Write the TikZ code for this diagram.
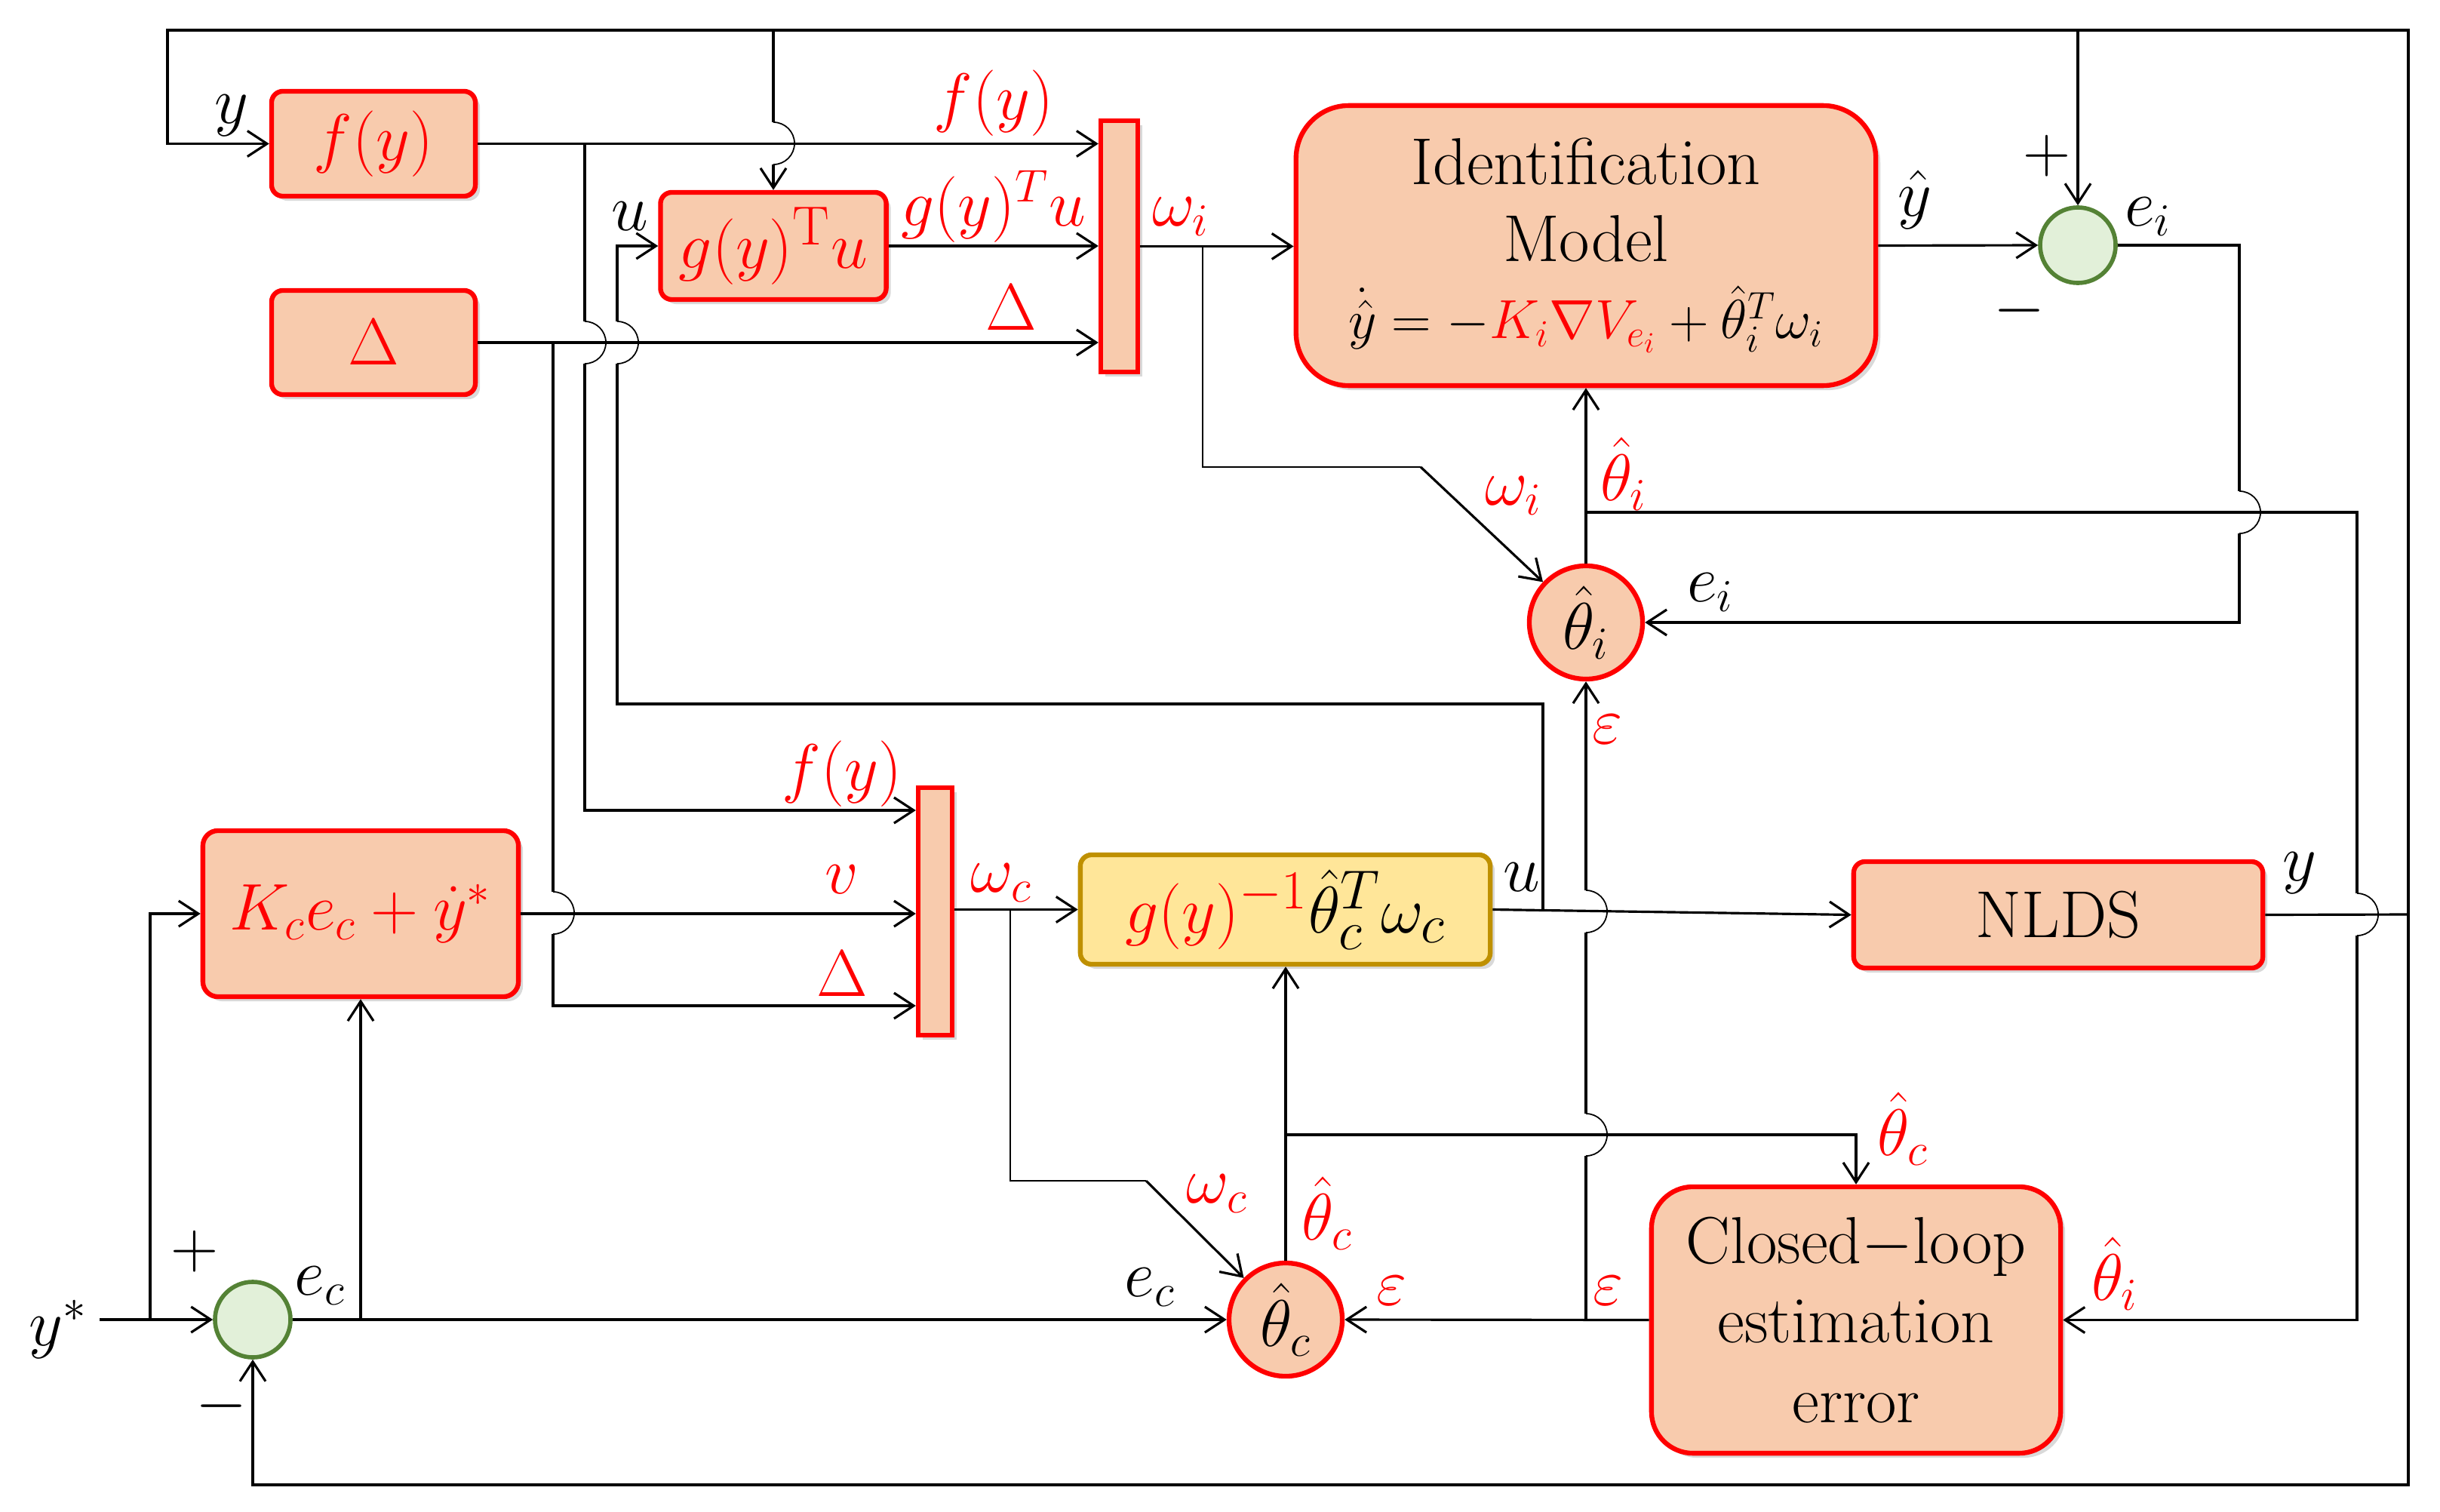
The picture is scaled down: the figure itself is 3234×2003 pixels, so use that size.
\documentclass[tikz,border=0pt]{standalone}
\usetikzlibrary{arrows.meta,shadows,calc}
\definecolor{peach}{HTML}{F8CBAD}
\definecolor{boxred}{HTML}{FF0000}
\definecolor{yel}{HTML}{FFE699}
\definecolor{gold}{HTML}{BF9000}
\definecolor{gfill}{HTML}{E2F0D9}
\definecolor{gdraw}{HTML}{548235}
\newcommand\hopv[2]{\draw[tn] (#1,#2-28) arc[start angle=90,end angle=-90,radius=0.28cm];}
\begin{document}
\begin{tikzpicture}[x=0.01cm,y=-0.01cm,
  every node/.style={font=\fontsize{26}{31}\selectfont},
  ln/.style={line width=0.9pt},
  tn/.style={line width=0.5pt},
  ar/.style={-{Straight Barb[length=0.26cm,width=0.34cm,line width=0.9pt]}},
  shd/.style={drop shadow={shadow xshift=0.06cm,shadow yshift=-0.06cm,opacity=0.3}},
  pbox/.style={draw=boxred,fill=peach,line width=1.8pt,rounded corners=0.15cm,inner sep=0pt,align=center,shd},
  ybox/.style={draw=gold,fill=yel,line width=1.8pt,rounded corners=0.15cm,inner sep=0pt,shd},
  mux/.style={draw=boxred,fill=peach,line width=1.8pt,inner sep=0pt,shd},
  sumc/.style={circle,draw=gdraw,fill=gfill,line width=1.6pt,minimum size=1.0cm,inner sep=0pt},
  estc/.style={circle,draw=boxred,fill=peach,line width=1.8pt,minimum size=1.5cm,inner sep=0pt},
  rl/.style={text=boxred,inner sep=0pt},
  bl/.style={text=black,inner sep=0pt}]
\useasboundingbox (0,0) rectangle (3234,2003);

% blocks
\node[pbox,minimum width=2.7cm,minimum height=1.39cm,text=boxred,font=\fontsize{28}{32}\selectfont] (fy) at (495,190.5) {$f(y)$};
\node[pbox,minimum width=2.99cm,minimum height=1.42cm,text=boxred,font=\fontsize{28}{32}\selectfont] (g) at (1025,326) {$g(y)^{\mathrm{T}}u$};
\node[pbox,minimum width=2.7cm,minimum height=1.38cm,text=boxred,font=\fontsize{28}{32}\selectfont] (Dl) at (495,454) {$\Delta$};
\node[mux,minimum width=0.49cm,minimum height=3.33cm] (m1) at (1483.5,326.5) {};
\node[pbox,rounded corners=0.7cm,minimum width=7.68cm,minimum height=3.71cm,font=\fontsize{25}{29}\selectfont] (ID) at (2102,325.5)
  {Identification\\Model\\{\fontsize{22}{29}\selectfont$\dot{\hat{y}}=-{\color{boxred}K_i\nabla V_{e_i}}+\hat{\theta}_i^T\omega_i$}};
\node[sumc] (si) at (2754,325) {};
\node[estc] (ti) at (2102,825) {$\hat{\theta}_i$};
\node[pbox,rounded corners=0.2cm,minimum width=4.18cm,minimum height=2.2cm,text=boxred] (ctrl) at (478,1211) {$K_ce_c+\dot{y}^{*}$};
\node[mux,minimum width=0.45cm,minimum height=3.28cm] (m2) at (1239.5,1208) {};
\node[ybox,minimum width=5.43cm,minimum height=1.45cm,font=\fontsize{28}{32}\selectfont] (Y) at (1703.5,1205.5) {${\color{boxred}g(y)^{-1}}\hat{\theta}_c^T\omega_c$};
\node[pbox,minimum width=5.42cm,minimum height=1.41cm,font=\fontsize{25}{29}\selectfont] (NLDS) at (2728,1212.5) {NLDS};
\node[estc] (tc) at (1704,1749) {$\hat{\theta}_c$};
\node[sumc] (sc) at (335,1749) {};
\node[pbox,rounded corners=0.55cm,minimum width=5.42cm,minimum height=3.53cm,font=\fontsize{25}{30}\selectfont] (CL) at (2460,1749.5) {Closed$-$loop\\estimation\\error};

% outer loop
\coordinate (jR) at (3192,1212);
\draw[ln] (NLDS.east) -- (jR);
\draw[ln,ar] (jR) -- (3192,40) -- (222,40) |- (fy.west);
\draw[ln,ar] (jR) -- (3192,1968) -| (sc.south);
\draw[ln] (1025,40) -- (1025,162); \hopv{1025}{190}
\draw[ln,ar] (1025,218) -- (g.north);
\draw[ln,ar] (si.north |- 0,40) -- (si.north);

% inputs to mux 1
\draw[ln,ar] (fy.east) -- (fy.east -| m1.west);
\draw[ln] (775,190) -- (775,426); \hopv{775}{454}
\draw[ln,ar] (775,482) |- (m2.west |- 0,1074);
\draw[ln,ar] (g.east) -- (g.east -| m1.west);
\draw[ln,ar] (Dl.east) -- (Dl.east -| m1.west);
\draw[ln] (733,454) -- (733,1182); \hopv{733}{1210}
\draw[ln,ar] (733,1238) |- (m2.west |- 0,1333);
\coordinate (uj) at (2045,1206.5);
\draw[ln] (uj) -- (2045,933) -- (818,933) -- (818,482); \hopv{818}{454}
\draw[ln,ar] (818,426) |- (g.west);

% identification part
\draw[ln,ar] (m1.east) -- (m1.east -| ID.west);
\draw[tn] (1594,326) -- (1594,619) -- (1883,619);
\draw[ln,ar] (1883,619) -- (ti);
\draw[ln,ar] (ID.east) -- (si.west);
\draw[ln] (si.east) -- (2968,325) -- (2968,651); \hopv{2968}{679}
\draw[ln,ar] (2968,707) |- (ti.east);
\draw[ln,ar] (ti.north) -- (ti.north |- ID.south);
\draw[ln] (2102,679) -- (3124,679) -- (3124,1184); \hopv{3124}{1212}
\draw[ln,ar] (3124,1240) |- (CL.east);

% epsilon
\draw[ln,ar] (CL.west) -- (tc.east);
\draw[ln] (2102,1749) -- (2102,1532); \hopv{2102}{1504}
\draw[ln] (2102,1476) -- (2102,1236); \hopv{2102}{1208}
\draw[ln,ar] (2102,1180) -- (ti.south);

% control part
\draw[ln,ar] (Y.east) -- (NLDS.west);
\draw[ln,ar] (ctrl.east) -- (ctrl.east -| m2.west);
\draw[ln,ar] (m2.east |- Y.west) -- (Y.west);
\draw[tn] (1339,1206) -- (1339,1565) -- (1519,1565);
\draw[ln,ar] (1519,1565) -- (tc);
\draw[ln,ar] (tc.north) -- (tc.north |- Y.south);
\draw[ln,ar] (1704,1504) -| (CL.north);
\draw[ln,ar] (132,1749) -- (sc.west);
\draw[ln,ar] (199,1749) |- (ctrl.west);
\draw[ln,ar] (sc.east) -- (tc.west);
\draw[ln,ar] (478,1749) -- (ctrl.south);

% labels
\node[bl] (l1) at (307,153) {$y$};
\node[rl] (l2) at (1317,137) {$f(y)$};
\node[rl] (l3) at (1317,274) {$g(y)^{T}u$};
\node[rl] (l4) at (1340,408) {$\Delta$};
\node[bl] (l5) at (835,287) {$u$};
\node[rl] (l6) at (1565,287) {$\omega_i$};
\node[bl] (l7) at (2538,265) {$\hat{y}$};
\node[bl] (l8) at (2713,207) {$+$};
\node[bl] (l9) at (2676,412) {$-$};
\node[bl] (l10) at (2847,287) {$e_i$};
\node[rl] (l11) at (2152,628) {$\hat{\theta}_i$};
\node[rl] (l12) at (2006,657) {$\omega_i$};
\node[bl] (l13) at (2267,785) {$e_i$};
\node[rl] (l14) at (2131,967) {$\varepsilon$};
\node[rl] (l15) at (1116,1026) {$f(y)$};
\node[rl] (l16) at (1116,1166) {$v$};
\node[rl] (l17) at (1116,1291) {$\Delta$};
\node[rl] (l18) at (1327,1170) {$\omega_c$};
\node[bl] (l19) at (2017,1163) {$u$};
\node[bl] (l20) at (3048,1157) {$y$};
\node[rl] (l21) at (2522,1496) {$\hat{\theta}_c$};
\node[rl] (l22) at (1613,1582) {$\omega_c$};
\node[rl] (l23) at (1759,1608) {$\hat{\theta}_c$};
\node[bl] (l24) at (1524,1706) {$e_c$};
\node[rl] (l25) at (1845,1711) {$\varepsilon$};
\node[rl] (l26) at (2132,1711) {$\varepsilon$};
\node[rl] (l27) at (2803,1688) {$\hat{\theta}_i$};
\node[bl] (l28) at (258,1659) {$+$};
\node[bl] (l29) at (294,1864) {$-$};
\node[bl] (l30) at (424,1704) {$e_c$};
\node[bl] (l31) at (77,1762) {$y^{*}$};
\end{tikzpicture}
\end{document}
